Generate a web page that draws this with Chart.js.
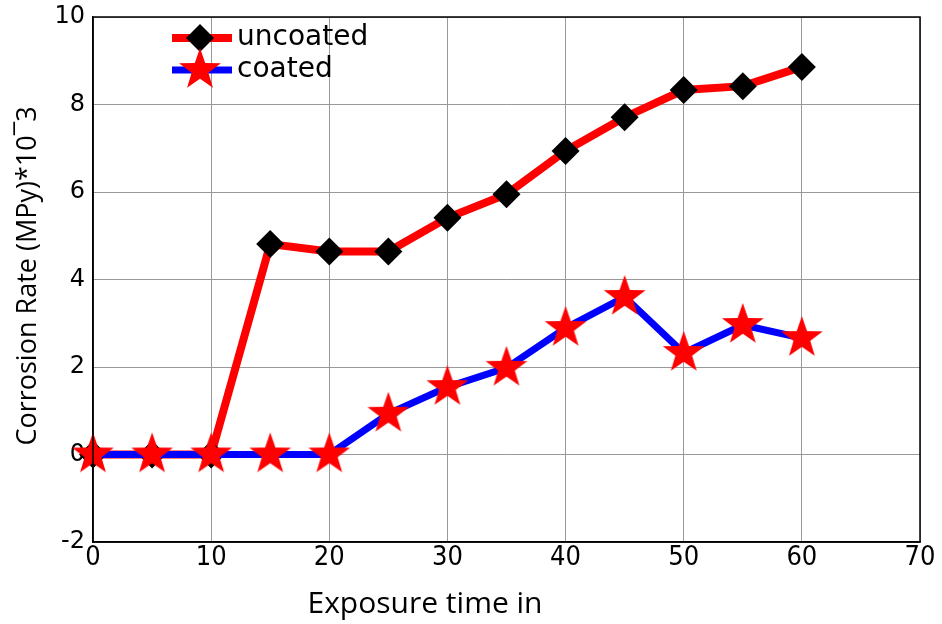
<!DOCTYPE html>
<html>
<head>
<meta charset="utf-8">
<script src="https://cdn.jsdelivr.net/npm/chart.js@4.4.1/dist/chart.umd.min.js"></script>
<style>
  html, body { margin: 0; padding: 0; background: #fff; }
</style>
</head>
<body>
<canvas id="chart" width="942" height="624"></canvas>
<script>
// values
const times = [0, 5, 10, 15, 20, 25, 30, 35, 40, 45, 50, 55, 60];
const uncoated = [0, 0, 0, 4.81, 4.64, 4.64, 5.41, 5.95, 6.94, 7.71, 8.33, 8.42, 8.86];
const coated = [0, 0, 0, 0, 0, 0.93, 1.54, 1.98, 2.89, 3.6, 2.32, 2.96, 2.66];
const xTicks = [0, 10, 20, 30, 40, 50, 60, 70];
const yTicks = [-2, 0, 2, 4, 6, 8, 10];
const xTitle = 'Exposure time in';
const yTitle = 'Corrosion Rate (MPy)*10\u00AF3';

// filled five point star used as marker (chart.js 'star' is only strokes)
function makeStar(r, color) {
  const c = document.createElement('canvas');
  c.width = c.height = r * 2 + 2;
  const g = c.getContext('2d');
  g.translate(r + 1, r + 1);
  g.beginPath();
  for (let i = 0; i < 10; i++) {
    const rad = i % 2 === 0 ? r : r * 0.4;
    const a = -Math.PI / 2 + i * Math.PI / 5;
    g.lineTo(Math.cos(a) * rad, Math.sin(a) * rad);
  }
  g.closePath();
  g.fillStyle = color;
  g.fill();
  return c;
}
const starImg = makeStar(22, '#ff0000');

// frame, axis titles and legend drawn inside the plot like the original
const extras = {
  id: 'extras',
  afterDraw(chart) {
    const { ctx, chartArea: a } = chart;
    ctx.save();
    ctx.strokeStyle = '#000';
    ctx.lineWidth = 1.5;
    ctx.strokeRect(a.left, a.top, a.right - a.left, a.bottom - a.top);

    ctx.fillStyle = '#000';
    ctx.font = '30px "Open Sans"';
    ctx.textAlign = 'center';
    ctx.textBaseline = 'middle';
    ctx.fillText(xTitle, 425, 604);
    ctx.save();
    ctx.translate(28, 276);
    ctx.rotate(-Math.PI / 2);
    ctx.font = '27px "Open Sans"';
    ctx.fillText(yTitle, 0, 0);
    ctx.restore();

    // legend
    const items = [
      { label: 'uncoated', ds: chart.data.datasets[0], y: 38 },
      { label: 'coated', ds: chart.data.datasets[1], y: 70 }
    ];
    ctx.textAlign = 'left';
    ctx.font = '28px "DejaVu Sans"';
    for (const it of items) {
      ctx.strokeStyle = it.ds.borderColor;
      ctx.lineWidth = it.ds.borderWidth;
      ctx.beginPath();
      ctx.moveTo(172, it.y);
      ctx.lineTo(232, it.y);
      ctx.stroke();
      ctx.fillStyle = '#000';
      Chart.helpers.drawPoint(ctx, {
        pointStyle: it.ds.pointStyle,
        radius: it.ds.pointRadius,
        borderWidth: 0,
        rotation: 0
      }, 200, it.y);
      ctx.fillStyle = '#000';
      ctx.fillText(it.label, 237, it.y);
    }
    ctx.restore();
  }
};

new Chart(document.getElementById('chart'), {
  type: 'line',
  data: {
    datasets: [
      {
        label: 'uncoated',
        data: times.map((t, i) => ({ x: t, y: uncoated[i] })),
        borderColor: '#ff0000',
        borderWidth: 8,
        pointStyle: 'rectRot',
        pointRadius: 14,
        pointBackgroundColor: '#000',
        pointBorderColor: '#000',
        pointBorderWidth: 0,
        tension: 0,
        clip: false,
        order: 1
      },
      {
        label: 'coated',
        data: times.map((t, i) => ({ x: t, y: coated[i] })),
        borderColor: '#0000ff',
        borderWidth: 7,
        pointStyle: starImg,
        pointRadius: 22,
        tension: 0,
        clip: false,
        order: 0
      }
    ]
  },
  options: {
    responsive: false,
    animation: false,
    layout: { autoPadding: false, padding: { top: 17, right: 22, left: 0, bottom: 0 } },
    plugins: { legend: { display: false }, tooltip: { enabled: false } },
    scales: {
      x: {
        type: 'linear',
        min: 0,
        max: 70,
        afterBuildTicks: s => { s.ticks = xTicks.map(v => ({ value: v })); },
        afterFit: s => { s.height = 82; s.paddingLeft = 0; s.paddingRight = 0; },
        ticks: { color: '#000', font: { family: '"DejaVu Sans Condensed", "Liberation Sans Narrow", "Open Sans"', size: 27 }, padding: 0, maxRotation: 0 },
        grid: { color: '#999', lineWidth: 1, drawTicks: false },
        border: { color: '#000', width: 1.5 }
      },
      y: {
        min: -2,
        max: 10,
        afterBuildTicks: s => { s.ticks = yTicks.map(v => ({ value: v })); },
        afterFit: s => { s.width = 93; s.paddingTop = 0; s.paddingBottom = 0; },
        ticks: { color: '#000', font: { family: '"DejaVu Sans"', size: 24 }, padding: 8 },
        grid: { color: '#999', lineWidth: 1, drawTicks: false },
        border: { color: '#000', width: 1.5 }
      }
    }
  },
  plugins: [extras]
});
</script>
</body>
</html>
